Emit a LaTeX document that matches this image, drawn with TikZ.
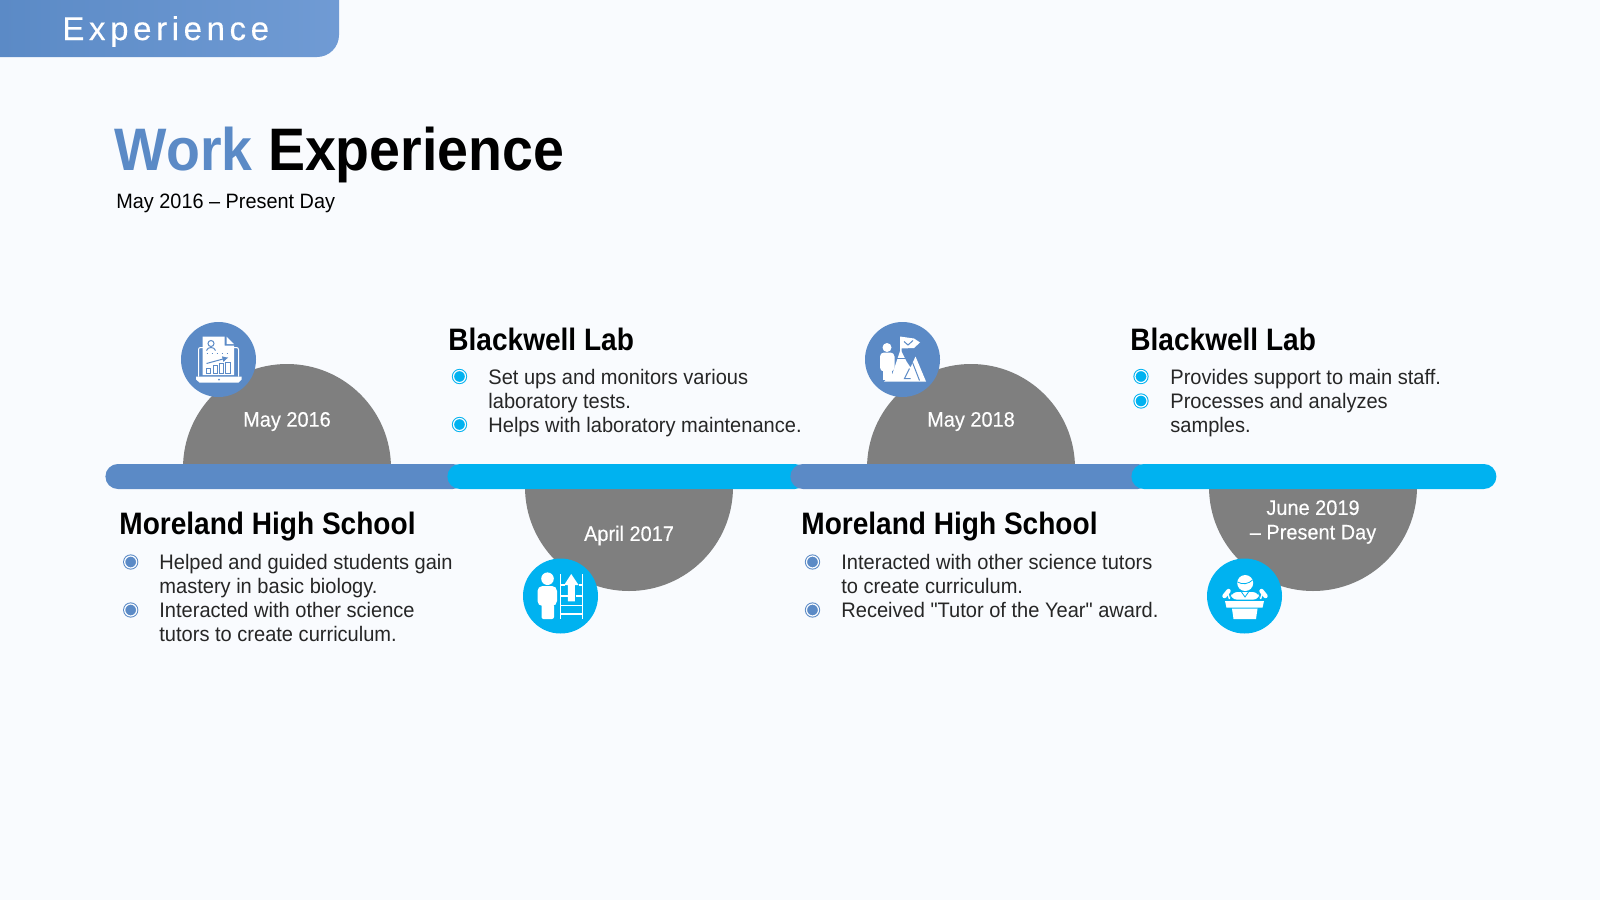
\documentclass[tikz,border=0pt]{standalone}
\usepackage{fontspec}
\setmainfont{Liberation Sans}[FakeStretch=0.955]
\newfontfamily\tabfont{Liberation Sans}[LetterSpace=14,FakeBold=0.25]
\newfontfamily\titlefont{Liberation Sans Bold}[FakeStretch=0.925]
\newfontfamily\headfont{Liberation Sans Bold}[FakeStretch=0.905]
\newfontfamily\datefont{Liberation Sans}[FakeStretch=0.95,FakeBold=0.25]
\newfontfamily\quotefont{Liberation Sans}[FakeStretch=0.955]
\usepackage{xcolor}
\usetikzlibrary{arrows.meta,positioning}
\definecolor{slidebg}{HTML}{F9FBFE}
\definecolor{workblue}{HTML}{5B8AC6}
\definecolor{tabblue}{HTML}{709BD4}
\definecolor{labcyan}{HTML}{00B2F0}
\definecolor{domegray}{HTML}{7F7F7F}
\definecolor{bodyink}{HTML}{262626}

\begin{document}
\begin{tikzpicture}[
  x=0.5pt, y=-0.5pt,
  barblue/.style={rounded corners=6.25pt, fill=workblue, inner sep=0pt, minimum height=12.5pt},
  barcyan/.style={barblue, fill=labcyan},
  datelabel/.style={text=white, align=center, inner sep=0pt, font=\datefont\fontsize{10.5}{12.25}\selectfont},
  iconblue/.style={circle, fill=workblue, inner sep=0pt, minimum size=37.5pt},
  iconcyan/.style={iconblue, fill=labcyan},
  heading/.style={anchor=base west, inner sep=0pt, font=\headfont\fontsize{15.5}{18}\selectfont},
  bodytext/.style={anchor=base west, inner sep=0pt, align=left, text=bodyink, font=\fontsize{10.5}{12}\selectfont},
  bulletblue/.style={circle, draw=workblue, line width=0.5pt, fill=workblue, double=slidebg, inner sep=0pt, minimum size=6pt},
  bulletcyan/.style={bulletblue, draw=labcyan, fill=labcyan}
]
  \useasboundingbox (0,0) rectangle (1600,900);
  \fill[slidebg] (0,0) rectangle (1600,900);

  % Top tab
  \path[left color=workblue, right color=tabblue] (0,0) -- (339,0) -- (339,35) arc[start angle=0, end angle=90, radius=22] -- (0,57) -- cycle;
  \node[anchor=base west, inner sep=0pt, text=white, font=\tabfont\fontsize{16.5}{18}\selectfont] (tab) at (62,40) {Experience};

  % Title
  \node[anchor=base west, inner sep=0pt, font=\titlefont\fontsize{30}{32}\selectfont] (title) at (114.5,170.5) {\textcolor{workblue}{Work} Experience};
  \node[anchor=base west, inner sep=0pt, font=\fontsize{10.4}{12}\selectfont] (period) at (116,208) {May 2016 -- Present Day};

  % Half discs behind the bar
  \fill[domegray] (183,468) arc[start angle=180, end angle=360, radius=104];
  \fill[domegray] (525,487) arc[start angle=180, end angle=0, radius=104];
  \fill[domegray] (867,468) arc[start angle=180, end angle=360, radius=104];
  \fill[domegray] (1209,487) arc[start angle=180, end angle=0, radius=104];

  % Timeline bar, each piece lies over the one before
  \node[barblue, minimum width=180pt, anchor=west] (barA) at (105,476.5) {};
  \node[barcyan, minimum width=180pt, anchor=west] (barB) at (447,476.5) {};
  \node[barblue, minimum width=180pt, anchor=west] (barC) at (790,476.5) {};
  \node[barcyan, minimum width=182.5pt, anchor=west] (barD) at (1131,476.5) {};

  % Dates
  \node[datelabel] (dateA) at (287,421.5) {May 2016};
  \node[datelabel] (dateB) at (629,535.5) {April 2017};
  \node[datelabel] (dateC) at (971,421.5) {May 2018};
  \node[datelabel] (dateD) at (1313,522) {June 2019\\– Present Day};

  % Icon discs
  \node[iconblue] (iconA) at (218.5,359.5) {};
  \node[iconcyan] (iconB) at (560.5,596) {};
  \node[iconblue] (iconC) at (902.5,359.5) {};
  \node[iconcyan] (iconD) at (1244.5,596) {};

  % Report on a laptop
  \begin{scope}[shift={(iconA.center)}]
    \draw[white, line width=0.5pt, rounded corners=1pt] (-20,17) -- (-20,-12) -- (20,-12) -- (20,17);
    \fill[white] (-22.5,17) -- (23,17) -- (23,20) -- (20,23) -- (-19,23) -- (-22.5,20) -- cycle;
    \fill[workblue] (0.5,20) circle (1);
    \fill[white] (-16,-23) -- (6,-23) -- (6,-14) -- (15.5,-14) -- (15.5,15.5) -- (-16,15.5) -- cycle;
    \fill[white] (8,-23) -- (15.5,-15.5) -- (8,-15.5) -- cycle;
    \draw[workblue, line width=0.5pt] (-7.5,-16) circle (3);
    \draw[workblue, line width=0.5pt] (-12,-9) .. controls (-11,-13) and (-4,-13) .. (-3,-9);
    \draw[workblue, line width=0.5pt, dotted] (-12,-6) -- (12,-6);
    \draw[workblue, line width=0.5pt, -{Latex[length=3pt,width=3pt]}] (-12,4) -- (10,-2);
    \draw[workblue, line width=0.5pt] (-12,9) rectangle (-8,14);
    \draw[workblue, line width=0.5pt] (-5.5,6) rectangle (-1,14);
    \draw[workblue, line width=0.5pt] (1,4) rectangle (5,14);
    \draw[workblue, line width=0.5pt] (7,3) rectangle (11.5,14);
  \end{scope}

  % Person beside a ladder
  \begin{scope}[shift={(iconB.center)}]
    \fill[white] (-13,-17.3) circle (6.3);
    \fill[white, rounded corners=2.5pt] (-23,10) -- (-23,-10) -- (-3.5,-10) -- (-3.5,10) -- cycle;
    \fill[white, rounded corners=1pt] (-19,8) -- (-19,23) -- (-6.5,23) -- (-6.5,8) -- cycle;
    \draw[white, line width=0.6pt] (0,-22) -- (0,22.7);
    \draw[white, line width=0.6pt] (22,-22) -- (22,22.7);
    \draw[white, line width=0.6pt] (0,-11) -- (4,-11);
    \draw[white, line width=0.6pt] (18,-11) -- (22,-11);
    \draw[white, line width=0.6pt] (0,0) -- (7,0);
    \draw[white, line width=0.6pt] (15,0) -- (22,0);
    \draw[white, line width=0.6pt] (0,9.5) -- (22,9.5);
    \draw[white, line width=0.6pt] (0,18) -- (22,18);
    \fill[white] (10.7,-22) -- (18,-11) -- (14.3,-11) -- (14.3,5.3) -- (7.3,5.3) -- (7.3,-11) -- (3.7,-11) -- cycle;
  \end{scope}

  % Person before a flagged mountain
  \begin{scope}[shift={(iconC.center)}]
    \fill[white] (-15.5,-12) circle (4.5);
    \fill[white, rounded corners=2pt] (-22.5,12) -- (-22.5,-7) -- (-8,-7) -- (-8,12) -- cycle;
    \fill[white] (-20,8) rectangle (-11,20);
    \fill[white] (-18.5,22) -- (-10,14) -- (-2,-10) -- (4,2) -- (8,8) -- (13,-3) -- (23.5,22) -- cycle;
    \fill[white] (-2.5,-23) -- (11.5,-21) -- (17.5,-17) -- (11.5,-11.5) -- (-1,-11) -- (-1,-8) -- (-2.5,-8) -- cycle;
    \draw[workblue, line width=0.5pt] (1.5,-18) -- (5.5,-14.5) -- (10.5,-19);
    \draw[workblue, line width=0.5pt] (-7,-1) -- (3,-1);
    \draw[workblue, line width=0.5pt] (7,9) -- (2,19) -- (8,19);
    \draw[workblue, line width=0.5pt] (10,3) -- (17,21);
  \end{scope}

  % Speaker at a lectern
  \begin{scope}[shift={(iconD.center)}]
    \fill[white] (0.7,-13) circle (8);
    \draw[labcyan, line width=0.4pt] (-7,-14) .. controls (-2,-11) and (4,-12) .. (8,-16);
    \fill[white, rounded corners=3pt] (-14,3.5) -- (-13,-4) -- (14,-4) -- (15,3.5) -- cycle;
    \draw[labcyan, line width=0.4pt] (-3,-4) -- (0.5,1) -- (4,-4);
    \fill[white] (-19.5,5) -- (19.5,5) -- (18,11.7) -- (-18,11.7) -- cycle;
    \fill[white] (-12.5,12.7) -- (13,12.7) -- (11.5,23) -- (-11,23) -- cycle;
    \draw[white, line width=2.2pt, line cap=round] (-20,0) -- (-16,-5);
    \draw[white, line width=0.7pt] (-17,-3) -- (-15,3);
    \draw[white, line width=2.2pt, line cap=round] (21,0) -- (17,-5);
    \draw[white, line width=0.7pt] (18,-3) -- (16,3);
  \end{scope}

  % Entries
  \node[heading] (schoolA) at (119,534.5) {Moreland High School};
  \node[bulletblue] (dotAa) at (130.7,562) {};
  \node[bulletblue] (dotAb) at (130.7,610) {};
  \node[bodytext] (itemAa) at (159,593) {Helped and guided students gain\\mastery in basic biology.};
  \node[bodytext] (itemAb) at (159,641) {Interacted with other science\\tutors to create curriculum.};

  \node[heading] (labA) at (448,350) {Blackwell Lab};
  \node[bulletcyan] (dotBa) at (459.5,376.5) {};
  \node[bulletcyan] (dotBb) at (459.5,424.5) {};
  \node[bodytext] (itemBa) at (488,408.5) {Set ups and monitors various\\laboratory tests.};
  \node[bodytext] (itemBb) at (488,432.5) {Helps with laboratory maintenance.};

  \node[heading] (schoolB) at (801,534.5) {Moreland High School};
  \node[bulletblue] (dotCa) at (812.5,562) {};
  \node[bulletblue] (dotCb) at (812.5,610) {};
  \node[bodytext] (itemCa) at (841,593) {Interacted with other science tutors\\to create curriculum.};
  \node[bodytext] (itemCb) at (841,617) {Received {\quotefont"}Tutor of the Year{\quotefont"} award.};

  \node[heading] (labB) at (1130,350) {Blackwell Lab};
  \node[bulletcyan] (dotDa) at (1141,376.5) {};
  \node[bulletcyan] (dotDb) at (1141,401) {};
  \node[bodytext] (itemDa) at (1170,384.5) {Provides support to main staff.};
  \node[bodytext] (itemDb) at (1170,432.5) {Processes and analyzes\\samples.};
\end{tikzpicture}
\end{document}
